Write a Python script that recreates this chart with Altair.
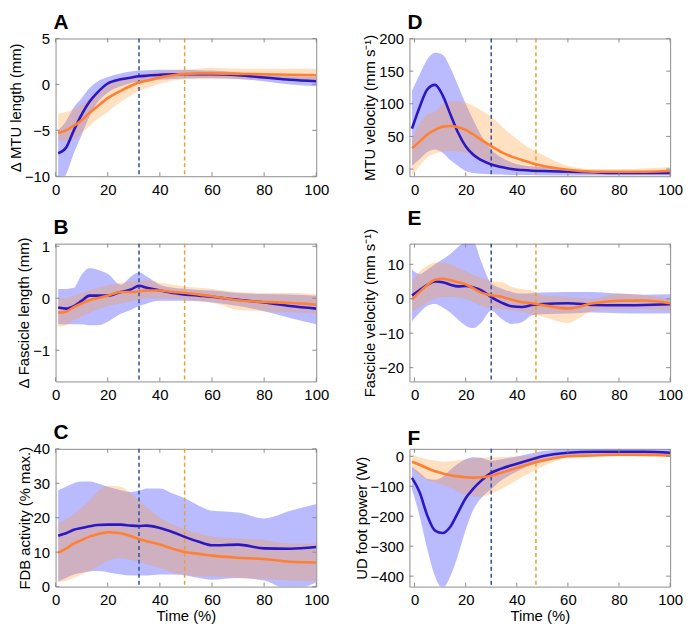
import altair as alt
import pandas as pd

# time grid (% of stance) used by the left and right column panels
X_LEFT = [1, 4, 7, 10, 13, 16, 20, 25, 29, 32, 35, 40, 45, 50, 55, 60, 70, 80, 90, 100]
X_RIGHT = [-1, 2, 5, 8, 11, 14, 17, 20, 23, 26, 30, 34, 38, 42, 46, 50, 60, 70, 80, 90, 100]
X_TICKS = [0, 20, 40, 60, 80, 100]

# A: MTU length change (mm)
A_BLUE = [-7.5, -6.9, -5.0, -3.3, -1.9, -0.9, 0.1, 0.55, 0.75, 0.88, 0.95, 1.05, 1.1, 1.1, 1.1, 1.1, 1.0, 0.75, 0.5, 0.35]
A_BLUE_LO = [-10.5, -9.8, -7.5, -5.5, -3.5, -2.0, -0.9, -0.2, 0.15, 0.3, 0.35, 0.5, 0.6, 0.65, 0.7, 0.7, 0.6, 0.35, 0.0, -0.2]
A_BLUE_HI = [-5.0, -4.0, -2.5, -1.5, -0.4, 0.3, 0.8, 1.2, 1.4, 1.5, 1.55, 1.6, 1.6, 1.6, 1.55, 1.5, 1.3, 1.1, 0.9, 0.8]
A_ORANGE = [-5.3, -5.0, -4.5, -3.9, -3.1, -2.4, -1.5, -0.7, -0.15, 0.2, 0.4, 0.75, 1.0, 1.15, 1.2, 1.2, 1.15, 1.1, 1.05, 1.0]
A_ORANGE_LO = [-6.0, -6.2, -6.0, -5.3, -4.5, -3.8, -3.0, -1.9, -1.2, -0.7, -0.4, 0.1, 0.4, 0.6, 0.6, 0.6, 0.6, 0.5, 0.4, 0.3]
A_ORANGE_HI = [-3.2, -3.0, -2.7, -2.2, -1.5, -0.8, 0.0, 0.5, 0.8, 1.0, 1.2, 1.4, 1.5, 1.6, 1.7, 1.8, 1.7, 1.7, 1.7, 1.7]

# B: fascicle length change (mm)
B_BLUE = [-0.18, -0.2, -0.15, -0.05, 0.05, 0.05, 0.05, 0.12, 0.17, 0.24, 0.2, 0.15, 0.1, 0.07, 0.05, 0.03, -0.03, -0.08, -0.15, -0.2]
B_BLUE_LO = [-0.5, -0.5, -0.5, -0.5, -0.52, -0.52, -0.45, -0.3, -0.22, -0.15, -0.1, -0.05, -0.05, -0.05, -0.06, -0.08, -0.15, -0.25, -0.38, -0.5]
B_BLUE_HI = [0.18, 0.18, 0.2, 0.45, 0.58, 0.55, 0.47, 0.26, 0.42, 0.5, 0.42, 0.26, 0.2, 0.18, 0.16, 0.15, 0.1, 0.08, 0.07, 0.05]
B_ORANGE = [-0.28, -0.26, -0.17, -0.1, -0.04, 0.0, 0.05, 0.12, 0.12, 0.13, 0.15, 0.15, 0.12, 0.1, 0.07, 0.04, -0.04, -0.07, -0.09, -0.12]
B_ORANGE_LO = [-0.55, -0.52, -0.42, -0.35, -0.28, -0.22, -0.15, -0.1, -0.06, -0.03, 0.0, 0.0, -0.01, -0.02, -0.05, -0.08, -0.22, -0.25, -0.27, -0.3]
B_ORANGE_HI = [0.0, 0.0, 0.05, 0.1, 0.15, 0.2, 0.25, 0.3, 0.32, 0.33, 0.35, 0.3, 0.26, 0.22, 0.2, 0.18, 0.12, 0.1, 0.1, 0.08]

# C: FDB activity (% max.)
C_BLUE = [14.8, 15.5, 16.5, 17.0, 17.5, 17.9, 18.0, 18.0, 17.7, 17.6, 17.7, 17.0, 15.8, 14.3, 13.0, 12.0, 12.2, 11.1, 11.0, 11.5]
C_BLUE_LO = [1.5, 2.5, 3.5, 4.0, 4.4, 4.5, 4.2, 3.5, 3.2, 3.2, 3.2, 3.5, 3.5, 3.2, 2.5, 2.0, 2.5, 1.8, -1.0, 1.2]
C_BLUE_HI = [28.0, 29.0, 30.0, 30.5, 30.5, 30.0, 29.0, 28.0, 27.5, 27.8, 28.5, 28.5, 27.0, 25.5, 23.5, 22.0, 21.5, 19.8, 22.0, 24.0]
C_ORANGE = [9.8, 11.0, 12.5, 13.5, 14.5, 15.2, 15.8, 15.5, 14.6, 13.8, 13.2, 12.2, 11.0, 10.0, 9.5, 9.0, 8.4, 8.0, 7.2, 7.0]
C_ORANGE_LO = [1.2, 1.7, 2.5, 3.5, 4.5, 5.8, 7.5, 8.2, 7.7, 7.2, 6.5, 5.5, 4.0, 3.5, 3.0, 3.0, 2.5, 2.2, 1.8, 1.5]
C_ORANGE_HI = [18.5, 19.5, 21.0, 23.0, 25.0, 27.5, 29.3, 29.0, 27.0, 25.0, 23.0, 20.0, 18.0, 16.5, 15.5, 14.5, 14.0, 13.5, 12.5, 12.5]

# D: MTU velocity (mm/s)
D_BLUE = [62, 95, 122, 129, 113, 84, 56, 35, 22, 14, 7, 3, 0, -1.5, -2.5, -3, -4, -5, -6, -6, -6]
D_BLUE_LO = [5, 15, 26, 30, 25, 14, 5, -3, -6, -7, -8, -8.5, -9, -9, -9, -9.5, -10, -10, -10, -10, -10]
D_BLUE_HI = [120, 145, 168, 178, 175, 155, 128, 100, 75, 52, 30, 18, 10, 6, 4, 3, 0, -2, -3, -3, -3]
D_ORANGE = [32, 42, 53, 60, 65, 66, 64, 60, 53, 45, 35, 26, 19, 14, 9, 5, -1, -4, -4, -4, -3]
D_ORANGE_LO = [-10, 5, 18, 24, 27, 28, 27, 25, 19, 13, 5, 1, -2, -4, -5, -5, -7, -8, -8, -9, -9]
D_ORANGE_HI = [45, 70, 84, 88, 100, 104, 104, 102, 97, 90, 80, 66, 52, 40, 30, 22, 5, 0, 0, 1, 3]

# E: fascicle velocity (mm/s)
E_BLUE = [1, 2.5, 4, 5, 4.8, 4.1, 3.6, 3.7, 3.3, 2.5, 0.5, -1.1, -2.2, -2.4, -1.8, -1.5, -1.3, -1.8, -1.9, -1.8, -1.6]
E_BLUE_LO = [-6.5, -4, -2, -1.5, -2.5, -4, -6, -7.8, -8.5, -7, -3.5, -5.8, -7.3, -6.8, -4.8, -4.5, -4.3, -4.0, -4.2, -4.3, -4.3]
E_BLUE_HI = [8.5, 7.2, 8.5, 10, 11.5, 13, 15, 16.5, 16.5, 11, 4.5, 3, 2, 1.5, 1.6, 1.8, 2, 2, 1.5, 1.2, 1.3]
E_ORANGE = [-0.2, 2, 4, 5.5, 5.8, 5.4, 4.8, 4.2, 3, 1.8, 1, 0.6, -0.3, -1, -1.3, -1.8, -2.8, -1.3, -0.6, -0.5, -1.3]
E_ORANGE_LO = [-3.5, -2.5, -1, 0, 0.5, 0.5, 0.3, 0, -1, -2, -2.8, -3, -3.3, -3.7, -4.5, -5.2, -7, -3.5, -3, -3, -3.5]
E_ORANGE_HI = [5, 8, 9.5, 10.5, 10.5, 10, 9, 8, 7, 6, 5, 4.8, 3.5, 2.8, 2.3, 1, 0.5, 0, 1.5, 1, 0]

# F: UD foot power (W)
F_BLUE = [-72, -120, -198, -248, -256, -235, -188, -140, -108, -82, -55, -41, -30, -20, -10, 0, 12, 15, 15, 15, 12]
F_BLUE_LO = [-110, -200, -310, -400, -440, -400, -330, -245, -178, -140, -110, -80, -60, -42, -28, -15, 2, 5, 5, 5, 3]
F_BLUE_HI = [-35, -55, -75, -78, -68, -45, -25, -10, -3, -5, -15, -10, -4, 3, 10, 18, 22, 22, 22, 22, 22]
F_ORANGE = [-18, -28, -40, -50, -57, -63, -67, -70, -71, -70, -65, -55, -44, -33, -23, -15, 0, 3, 5, 5, 3]
F_ORANGE_LO = [-40, -65, -80, -87, -95, -105, -118, -128, -133, -135, -125, -108, -90, -70, -52, -35, -5, 0, 0, -2, -2]
F_ORANGE_HI = [5, -3, -10, -15, -18, -16, -13, -10, -7, -5, -3, -2, -1, 0, 2, 5, 10, 12, 12, 12, 12]

BLUE_LINE = "#2b17c4"
BLUE_BAND = "#6666ff"
ORANGE_LINE = "#ff8033"
ORANGE_BAND = "#ff9933"
BLUE_EVENT = "#2d4f9e"
ORANGE_EVENT = "#e8a030"
FRAME = "#8c8c8c"
FONT = "Liberation Sans"

W, H = 263, 139


def panel(letter, xs, series, y_domain, y_ticks, x_domain, y_title, events, x_title=None):
    xscale = alt.Scale(domain=x_domain, nice=False, zero=False)
    yscale = alt.Scale(domain=y_domain, nice=False, zero=False)
    xaxis = alt.Axis(values=X_TICKS, labelFlush=False, title=x_title)
    yaxis = alt.Axis(values=y_ticks, labelFlush=False, title=y_title)

    def xe():
        return alt.X("x:Q", scale=xscale, axis=xaxis)

    layers = []
    frames = []
    for mean, lo, hi, band, opacity in series:
        frames.append(pd.DataFrame({"x": xs, "mean": mean, "lo": lo, "hi": hi}))
    for df, (_, _, _, band, opacity) in zip(frames, series):
        layers.append(
            alt.Chart(df).mark_area(color=band, opacity=opacity, clip=True, interpolate="monotone").encode(
                x=xe(), y=alt.Y("lo:Q", scale=yscale, axis=yaxis), y2="hi:Q"
            )
        )
    ev = pd.DataFrame({"x": events, "c": [BLUE_EVENT, ORANGE_EVENT]})
    layers.append(
        alt.Chart(ev).mark_rule(strokeDash=[4, 3], strokeWidth=1.5).encode(x=xe(), color=alt.Color("c:N", scale=None))
    )
    for df, color in zip(frames, [BLUE_LINE, ORANGE_LINE]):
        layers.append(
            alt.Chart(df).mark_line(color=color, strokeWidth=2.6, clip=True, interpolate="monotone").encode(
                x=xe(), y=alt.Y("mean:Q", scale=yscale, axis=yaxis)
            )
        )
    # inward ticks on all four sides, MATLAB style
    xt = pd.DataFrame({"x": X_TICKS})
    yt = pd.DataFrame({"lo": y_ticks})
    for a, b in [(H, H - 4), (0, 4)]:
        layers.append(alt.Chart(xt).mark_rule(color=FRAME).encode(x=xe(), y=alt.value(a), y2=alt.value(b)))
    for a, b in [(0, 4), (W, W - 4)]:
        layers.append(
            alt.Chart(yt).mark_rule(color=FRAME).encode(
                y=alt.Y("lo:Q", scale=yscale, axis=yaxis), x=alt.value(a), x2=alt.value(b)
            )
        )
    return alt.layer(*layers).properties(
        width=W,
        height=H,
        title=alt.TitleParams(
            letter, anchor="start", frame="group", fontSize=21, fontWeight="bold", font=FONT, offset=-1, dx=-2
        ),
    )


def two(blue, blue_lo, blue_hi, orange, orange_lo, orange_hi):
    return [(blue, blue_lo, blue_hi, BLUE_BAND, 0.45), (orange, orange_lo, orange_hi, ORANGE_BAND, 0.3)]


pa = panel("A", X_LEFT, two(A_BLUE, A_BLUE_LO, A_BLUE_HI, A_ORANGE, A_ORANGE_LO, A_ORANGE_HI),
           [-10, 5], [-10, -5, 0, 5], [0, 100], "Δ MTU length (mm)", [32, 49.5])
pb = panel("B", X_LEFT, two(B_BLUE, B_BLUE_LO, B_BLUE_HI, B_ORANGE, B_ORANGE_LO, B_ORANGE_HI),
           [-1.6, 1.05], [-1, 0, 1], [0, 100], "Δ Fascicle length (mm)", [32, 49.5])
pc = panel("C", X_LEFT, two(C_BLUE, C_BLUE_LO, C_BLUE_HI, C_ORANGE, C_ORANGE_LO, C_ORANGE_HI),
           [0, 40], [0, 10, 20, 30, 40], [0, 100], "FDB activity (% max.)", [32, 49.5], "Time (%)")
pd_ = panel("D", X_RIGHT, two(D_BLUE, D_BLUE_LO, D_BLUE_HI, D_ORANGE, D_ORANGE_LO, D_ORANGE_HI),
            [-11, 200], [0, 50, 100, 150, 200], [-2, 100], "MTU velocity (mm s⁻¹)", [30, 47.5])
pe = panel("E", X_RIGHT, two(E_BLUE, E_BLUE_LO, E_BLUE_HI, E_ORANGE, E_ORANGE_LO, E_ORANGE_HI),
           [-24, 16], [-20, -10, 0, 10], [-2, 100], "Fascicle velocity (mm s⁻¹)", [30, 47.5])
pf = panel("F", X_RIGHT, two(F_BLUE, F_BLUE_LO, F_BLUE_HI, F_ORANGE, F_ORANGE_LO, F_ORANGE_HI),
           [-435, 25], [-400, -300, -200, -100, 0], [-2, 100], "UD foot power (W)", [30, 47.5], "Time (%)")

chart = (
    alt.concat(pa, pd_, pb, pe, pc, pf, columns=2, spacing={"row": 68, "column": 94}, bounds="flush")
    .properties(padding=0)
    .configure(
        view=alt.ViewConfig(stroke=FRAME, strokeWidth=1),
        axis=alt.AxisConfig(
            labelFont=FONT,
            titleFont=FONT,
            labelFontSize=15,
            titleFontSize=15,
            labelColor="#000000",
            titleColor="#000000",
            titleFontWeight="normal",
            domain=False,
            ticks=False,
            grid=False,
            labelPadding=6,
            titlePadding=1,
        ),
    )
)

chart.save("out.html", embed_options={"renderer": "svg", "actions": False})
